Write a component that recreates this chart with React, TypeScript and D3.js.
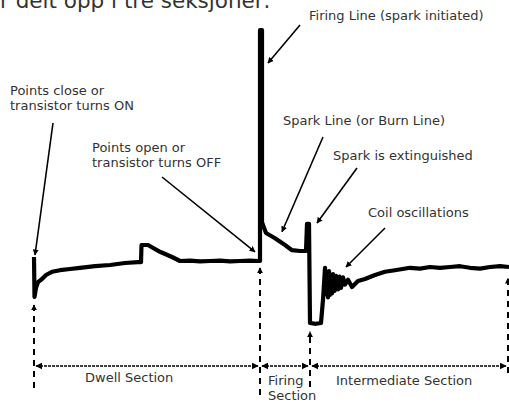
import React from 'react'
import * as d3 from 'd3'

// ignition secondary waveform, time in ms, voltage in kV
const traceTime = [
  0, 0.01, 0.04, 0.08, 0.16, 0.24, 0.36, 0.52, 0.72, 0.92, 1.22, 1.52, 1.82, 2.08, 2.14,
  2.15, 2.28, 2.52, 2.76, 2.92, 3.12, 3.32, 3.52, 3.72, 3.92, 4.12, 4.32, 4.48,
  4.52, 4.52, 4.56, 4.56, 4.6, 4.64, 4.82, 5.02, 5.16, 5.32, 5.44, 5.46, 5.5, 5.52,
  5.64, 5.74, 5.78, 5.82, 5.84, 5.86, 5.88, 5.9, 5.92, 5.94, 5.96, 5.98, 6.01, 6.04, 6.08, 6.11, 6.14,
  6.18, 6.22, 6.28, 6.36,
  6.48, 6.62, 6.82, 7.02, 7.22, 7.52, 7.72, 7.92, 8.12, 8.32, 8.52, 8.72, 8.92, 9.12, 9.32, 9.5,
]
const traceVolt = [
  1.25, -3.75, -2.6, -1.9, -1.5, -1.0, -0.6, -0.4, -0.25, -0.1, 0.1, 0.25, 0.5, 0.6, 0.6,
  2.75, 2.75, 1.9, 1.25, 0.75, 0.8, 0.7, 0.75, 0.8, 0.7, 0.75, 0.8, 0.75,
  0.75, 29.6, 29.6, 5.6, 4.9, 4.25, 3.6, 2.75, 2.1, 2.0, 2.0, 5.4, 5.4, -7.0,
  -7.1, -7.0, -4.1, -0.1, -3.4, -0.8, -3.8, -0.5, -3.5, -1.0, -3.3, -0.9, -3.0, -1.1, -2.8, -1.2, -2.6,
  -1.3, -2.2, -1.6, -2.5,
  -1.75, -1.5, -1.0, -0.6, -0.4, -0.1, -0.2, 0, -0.1, 0, 0.1, -0.1, -0.2, 0, 0.1, 0,
]

// section boundaries (ms) and names
const sectionBounds = [0, 4.52, 5.52, 9.48]
const sectionNames = [['Dwell Section'], ['Firing', 'Section'], ['Intermediate Section']]

// event markers: time (ms), voltage where the dashed arrow points (kV)
const markerTime = [0, 4.52, 5.52, 9.48]
const markerVolt = [-4.75, -0.1, -8.1, -1.4]
const markerEnd = [388, 395, 387, 373]

// callouts: text, and the event the arrow points at (ms, kV)
const calloutText = [
  ['Firing Line (spark initiated)'],
  ['Points close or', 'transistor turns ON'],
  ['Spark Line (or Burn Line)'],
  ['Points open or', 'transistor turns OFF'],
  ['Spark is extinguished'],
  ['Coil oscillations'],
]
const calloutTime = [4.68, 0.02, 4.96, 4.42, 5.66, 6.24]
const calloutVolt = [25.5, 1.5, 4.4, 1.9, 5.5, 0]

const W = 509
const H = 402

export default function App() {
  const x = d3.scaleLinear().domain([0, 9.5]).range([34, 509])
  const y = d3.scaleLinear().domain([-8, 30]).range([331, 27])

  const pts: [number, number][] = traceTime.map((t, i) => [t, traceVolt[i]])
  const line = d3.line<[number, number]>().x(d => x(d[0])).y(d => y(d[1]))

  const font = { fontFamily: '"DejaVu Sans", Verdana, sans-serif', fontSize: 13, fill: '#333' }

  // label layout in px
  const labelPos = [
    { x: 309, y: 20, from: [300, 25] },
    { x: 10, y: 95, from: [53, 123] },
    { x: 283, y: 125, from: [323, 137] },
    { x: 92, y: 152, from: [162, 177] },
    { x: 333, y: 160, from: [357, 168] },
    { x: 368, y: 217, from: [385, 228] },
  ]

  const dimY = 366
  const sections = sectionNames.map((name, i) => ({
    name,
    x0: x(sectionBounds[i]),
    x1: x(sectionBounds[i + 1]),
  }))
  const sectionLabel = [
    { x: 85, y: 382 },
    { x: 268, y: 385 },
    { x: 336, y: 385 },
  ]

  return (
    <svg width={W} height={H} style={{ position: 'absolute', left: 0, top: 0, background: '#fff' }}>
      <defs>
        <marker id="ah" viewBox="0 0 10 10" refX="9" refY="5" markerWidth="6" markerHeight="6"
          markerUnits="userSpaceOnUse" orient="auto">
          <path d="M0,0 L10,5 L0,10 z" fill="#000" />
        </marker>
        <marker id="ahs" viewBox="0 0 10 10" refX="9" refY="5" markerWidth="7" markerHeight="7"
          markerUnits="userSpaceOnUse" orient="auto-start-reverse">
          <path d="M0,0 L10,5 L0,10 z" fill="#000" />
        </marker>
      </defs>

      <text x={0} y={8} style={{ ...font, fontSize: 21.5 }}>r delt opp i tre seksjoner:</text>

      {/* the trace */}
      <path d={line(pts) ?? ''} fill="none" stroke="#000" strokeWidth={4.2} strokeLinejoin="round" />

      {/* dashed event markers */}
      {markerTime.map((t, i) => (
        <line key={'m' + i} x1={x(t)} x2={x(t)} y1={markerEnd[i]} y2={y(markerVolt[i])}
          stroke="#000" strokeWidth={2} strokeDasharray="6,5" markerEnd="url(#ah)" />
      ))}

      {/* section dimension lines */}
      {sections.map((s, i) => (
        <g key={'s' + i}>
          <line x1={s.x0 + 2} x2={s.x1 - 2} y1={dimY} y2={dimY} stroke="#000" strokeWidth={1.6}
            strokeDasharray="3,1" markerStart="url(#ahs)" markerEnd="url(#ahs)" />
          <text x={sectionLabel[i].x} y={sectionLabel[i].y} style={font}>
            {s.name.map((ln, j) => (
              <tspan key={j} x={sectionLabel[i].x} dy={j === 0 ? 0 : 15}>{ln}</tspan>
            ))}
          </text>
        </g>
      ))}

      {/* callouts */}
      {calloutText.map((lines, i) => {
        const p = labelPos[i]
        return (
          <g key={'c' + i}>
            <text x={p.x} y={p.y} style={font}>
              {lines.map((ln, j) => (
                <tspan key={j} x={p.x} dy={j === 0 ? 0 : 15}>{ln}</tspan>
              ))}
            </text>
            <line x1={p.from[0]} y1={p.from[1]} x2={x(calloutTime[i])} y2={y(calloutVolt[i])}
              stroke="#000" strokeWidth={1.6} markerEnd="url(#ah)" />
          </g>
        )
      })}
    </svg>
  )
}
